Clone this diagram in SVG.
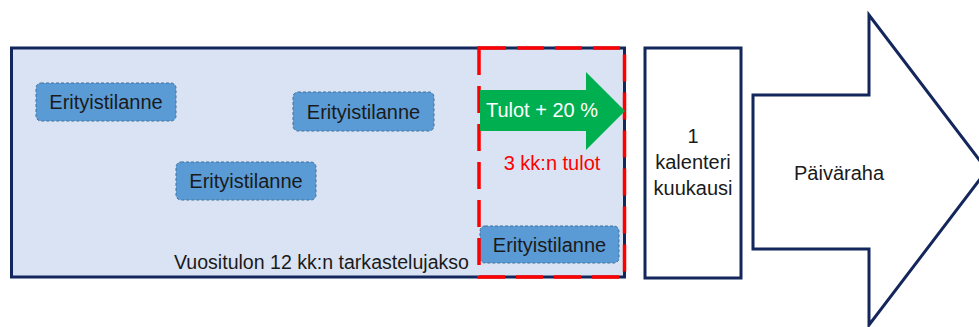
<svg xmlns="http://www.w3.org/2000/svg" width="979" height="327" viewBox="0 0 979 327">
<style>
text{font-family:"Liberation Sans",Arial,sans-serif;font-size:20px;fill:#1a1a1a}
.box rect{fill:#5B9BD5;stroke:#41719C;stroke-width:1;stroke-dasharray:3 2}
.navy{fill:#fff;stroke:#13275c;stroke-width:3}
</style>
<rect width="979" height="327" fill="#fff"/>
<g id="period">
<rect x="11.5" y="48" width="613" height="229" fill="#DAE3F3" stroke="#13275c" stroke-width="3"/>
<text x="174" y="269" textLength="295" lengthAdjust="spacingAndGlyphs">Vuositulon 12 kk:n tarkastelujakso</text>
</g>
<g id="e1" class="box"><rect x="36" y="83" width="140" height="38" rx="5"/><text x="106" y="108.5" text-anchor="middle">Erityistilanne</text></g>
<g id="e2" class="box"><rect x="293" y="92" width="141" height="39" rx="5"/><text x="363.5" y="118.5" text-anchor="middle">Erityistilanne</text></g>
<g id="e3" class="box"><rect x="176" y="162" width="140" height="38" rx="5"/><text x="246" y="187.5" text-anchor="middle">Erityistilanne</text></g>
<g id="e4" class="box"><rect x="480" y="226" width="139" height="37" rx="5"/><text x="549.5" y="251.5" text-anchor="middle">Erityistilanne</text></g>
<g id="window">
<rect x="479" y="48" width="145.5" height="229" fill="none" stroke="#FF0000" stroke-width="3.5" stroke-dasharray="27 11"/>
<text x="552" y="170" text-anchor="middle" style="fill:#FF0000">3 kk:n tulot</text>
</g>
<g id="income">
<polygon points="480,90 586,90 586,72 625,111 586,150 586,131 480,131" fill="#00B050"/>
<text x="542" y="117" text-anchor="middle" style="fill:#fff">Tulot + 20 %</text>
</g>
<g id="month">
<rect x="645" y="48" width="96" height="230" class="navy"/>
<text x="693" y="143" text-anchor="middle">1</text>
<text x="693" y="169" text-anchor="middle">kalenteri</text>
<text x="693" y="195" text-anchor="middle">kuukausi</text>
</g>
<g id="allowance">
<polygon points="753,95 869,95 869,15 987,170 869,325 869,249 753,249" class="navy"/>
<text x="839" y="180" text-anchor="middle">Päiväraha</text>
</g>
<g id="connectors"></g>
</svg>
